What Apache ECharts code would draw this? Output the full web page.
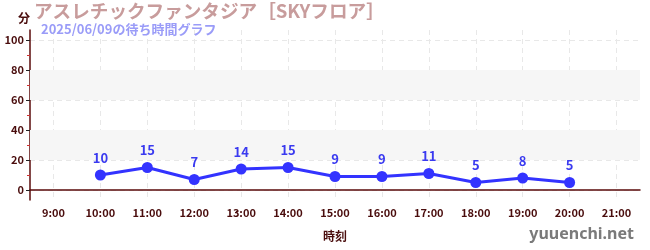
<!DOCTYPE html>
<html><head><meta charset="utf-8">
<script src="https://cdn.jsdelivr.net/npm/echarts@6/dist/echarts.min.js"></script>
<style>html,body{margin:0;padding:0;background:#fff}#c{width:650px;height:250px}</style>
</head><body><div id="c"></div>
<script>
const categories = ['9:00','10:00','11:00','12:00','13:00','14:00','15:00','16:00','17:00','18:00','19:00','20:00','21:00'];
const waitTimes = [null,10,15,7,14,15,9,9,11,5,8,5,null];
const yTicks = [0,20,40,60,80,100];
const yMinorTicks = [10,30,50,70,90];
const shadedBands = [[20,40],[60,80]];
const titleText = 'アスレチックファンタジア［SKYフロア］';
const subtitleText = '2025/06/09の待ち時間グラフ';

const font = '"Noto Sans CJK JP","Noto Sans",sans-serif';
const axisColor = '#5a0a0a';
const labelColor = '#4a0d0d';
const chart = echarts.init(document.getElementById('c'));
chart.setOption({
  animation: false,
  textStyle: {fontFamily: font},
  title: [{
    text: titleText, left: 29, top: 0, padding: [2, 5],
    textStyle: {fontSize: 18.6, fontWeight: 'bold', color: '#c89c9c', fontFamily: font}
  }, {
    text: subtitleText, left: 36, top: 21, padding: [2, 5],
    textStyle: {fontSize: 13, fontWeight: 'bold', color: '#9a9cf8', fontFamily: font}
  }],
  grid: {left: 30, right: 10, top: 30, bottom: 50},
  xAxis: {
    type: 'category', data: categories, boundaryGap: true,
    name: '時刻', nameLocation: 'middle', nameGap: 30,
    nameTextStyle: {color: labelColor, fontSize: 12, fontWeight: 'bold', fontFamily: font},
    axisLine: {lineStyle: {color: axisColor, width: 1.5}},
    axisTick: {alignWithLabel: true, length: 4, lineStyle: {color: '#333'}},
    axisLabel: {color: labelColor, fontSize: 11, fontWeight: 'bold', margin: 7, fontFamily: font},
    splitLine: {show: true, alignWithLabel: true, lineStyle: {color: '#e8e8e8', type: [5, 4]}}
  },
  yAxis: [{
    type: 'value', min: -6.67, max: 106.67,
    name: '分', nameLocation: 'end', nameGap: 6,
    nameTextStyle: {color: labelColor, fontSize: 12, fontWeight: 'bold', align: 'right', fontFamily: font},
    axisLine: {show: true, lineStyle: {color: axisColor, width: 1.5}},
    axisTick: {show: true, inside: false, length: 4, customValues: yTicks, lineStyle: {color: '#222'}},
    axisLabel: {customValues: yTicks, color: labelColor, fontSize: 11, fontWeight: 'bold', margin: 6, fontFamily: font},
    splitLine: {show: true, lineStyle: {color: '#e8e8e8', type: [5, 4]}}
  }, {
    type: 'value', min: -6.67, max: 106.67, position: 'left', offset: 0,
    axisLine: {show: false},
    axisTick: {show: true, length: 3, customValues: yMinorTicks, lineStyle: {color: '#d03030'}},
    axisLabel: {show: false},
    splitLine: {show: false}
  }],
  graphic: [{
    type: 'text', right: 16, bottom: 8,
    style: {text: 'yuuenchi.net', fill: '#7a7a7a', font: 'bold 16px "Noto Sans","DejaVu Sans",sans-serif'}
  }],
  series: [{
    type: 'line', data: waitTimes, yAxisIndex: 0,
    color: '#3333ff',
    lineStyle: {width: 3, color: '#3333ff'},
    symbol: 'circle', symbolSize: 11,
    itemStyle: {color: '#3333ff'},
    label: {show: true, position: 'top', distance: 5, color: '#3a3af0', fontSize: 13, fontWeight: 'bold', fontFamily: font},
    markArea: {
      silent: true,
      itemStyle: {color: '#f6f6f6'},
      label: {show: false},
      data: shadedBands.map(b => [{yAxis: b[0], x: 30}, {yAxis: b[1], x: 640}])
    },
    z: 5
  }]
});
</script></body></html>
